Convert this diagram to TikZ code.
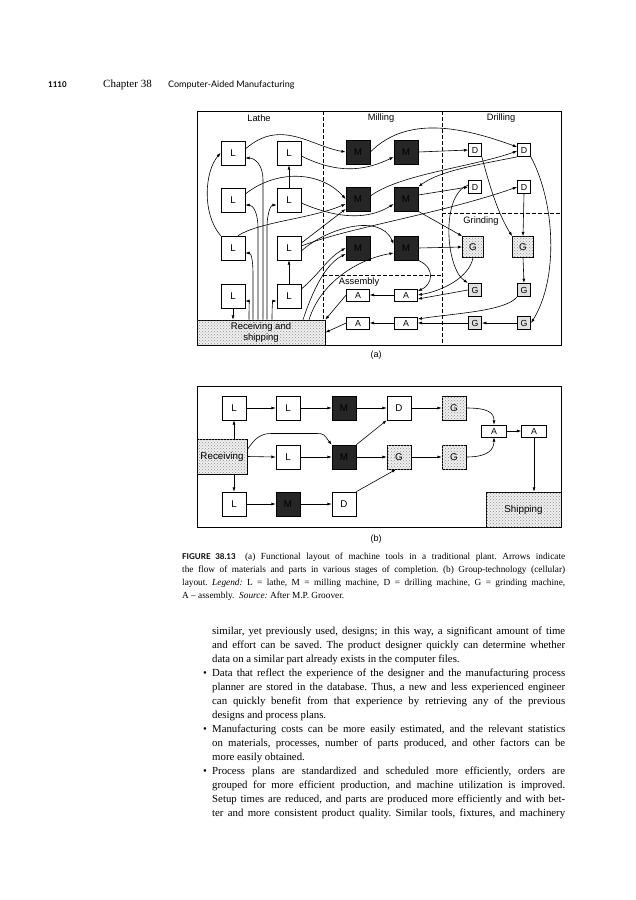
\documentclass[tikz,border=0pt]{standalone}
\usepackage{fontspec}
\setmainfont{Liberation Serif}
\setsansfont{Liberation Sans}
\newfontfamily\headfont{Lato}
\usetikzlibrary{arrows.meta,patterns}

\begin{document}
\begin{tikzpicture}[x=1pt,y=-1pt,
  outline/.style={draw, line width=0.7pt},
  zone/.style={line width=0.55pt, dash pattern=on 3.5pt off 2.5pt},
  flow/.style={-{Latex[length=4.2pt,width=3pt]}, line width=0.6pt},
  zonelabel/.style={font=\sffamily\fontsize{9.3}{10}\selectfont},
  speckle/.style={fill=black!6, postaction={pattern=crosshatch dots, pattern color=black!45}},
  machine/.style={draw, line width=0.7pt, fill=white, minimum size=24pt, inner sep=0pt, font=\sffamily\fontsize{9.8}{10}\selectfont},
  mill/.style={machine, fill=black!85},
  drill/.style={machine, minimum size=13pt, font=\sffamily\fontsize{8.8}{9}\selectfont},
  grind/.style={machine, speckle, minimum size=21pt},
  gsmall/.style={drill, line width=1.2pt, fill=black!12},
  asm/.style={machine, minimum width=23pt, minimum height=12pt, font=\sffamily\fontsize{8.8}{9}\selectfont},
  store/.style={draw, line width=0.7pt, speckle, inner sep=0pt, align=center, font=\sffamily\fontsize{9.5}{10.5}\selectfont}]
\fill[white] (0,0) rectangle (636,900);
\useasboundingbox (0,0) rectangle (636,900);

\node[anchor=base west, inner sep=0, font=\headfont\bfseries\fontsize{8}{9}\selectfont] (pageno) at (48,87) {1110};
\node[anchor=base west, inner sep=0, font=\fontsize{11}{12}\selectfont] (chapter) at (103,87) {Chapter 38};
\node[anchor=base west, inner sep=0, font=\headfont\fontsize{9}{10}\selectfont] (runhead) at (168,87) {Computer-Aided Manufacturing};

% (a) functional layout
\draw[outline] (197,111) rectangle (561,345);
\draw[zone] (323,111) -- (323,320); \draw[zone] (442,111) -- (442,345);
\draw[zone] (442,213) -- (561,213); \draw[zone] (323,275) -- (442,275);
\node[zonelabel] (lathe) at (259,118) {Lathe}; \node[zonelabel] (milling) at (381,118) {Milling};
\node[zonelabel] (drilling) at (501,118) {Drilling}; \node[zonelabel] (grinding) at (481,221) {Grinding};
\node[zonelabel] (assembly) at (359,282) {Assembly};

\node[machine] (l11) at (233,153) {L}; \node[machine] (l12) at (289,153) {L};
\node[machine] (l21) at (233,200) {L}; \node[machine] (l22) at (289,200) {L};
\node[machine] (l31) at (233,248) {L}; \node[machine] (l32) at (289,248) {L};
\node[machine] (l41) at (233,296) {L}; \node[machine] (l42) at (289,296) {L};
\node[mill] (m11) at (358,152) {M}; \node[mill] (m12) at (406,152) {M};
\node[mill] (m21) at (358,199) {M}; \node[mill] (m22) at (406,199) {M};
\node[mill] (m31) at (358,248) {M}; \node[mill] (m32) at (406,248) {M};
\node[drill] (d11) at (475,150) {D}; \node[drill] (d12) at (524,150) {D};
\node[drill] (d21) at (475,187) {D}; \node[drill] (d22) at (524,187) {D};
\node[grind] (g11) at (473,247) {G}; \node[grind] (g12) at (523,247) {G};
\node[gsmall] (g21) at (475,290) {G}; \node[gsmall] (g22) at (524,290) {G};
\node[gsmall] (g31) at (475,323) {G}; \node[gsmall] (g32) at (524,323) {G};
\node[asm] (a11) at (358,295) {A}; \node[asm] (a12) at (406,295) {A};
\node[asm] (a21) at (358,323) {A}; \node[asm] (a22) at (406,323) {A};
\node[store, minimum width=128pt, minimum height=25pt] (recship) at (261,332.5) {Receiving and\\shipping};

\draw[flow] ([xshift=2pt]recship.north) -- ++(0,-140) .. controls +(0,-14) and +(10,0) .. ([yshift=-5pt]l11.east);
\draw[flow] ([xshift=-3pt]recship.north) -- ++(0,-92) .. controls +(0,-14) and +(8,0) .. ([yshift=-5pt]l21.east);
\draw[flow] ([xshift=-8pt]recship.north) -- ++(0,-45) .. controls +(0,-14) and +(6,0) .. ([yshift=-5pt]l31.east);
\draw[flow] ([xshift=-12pt]recship.north) .. controls +(0,-14) and +(4,0) .. ([yshift=-5pt]l41.east);
\draw[flow] ([xshift=6pt]recship.north) -- ++(0,-92) .. controls +(0,-14) and +(-6,0) .. ([yshift=-5pt]l22.west);
\draw[flow] ([xshift=11pt]recship.north) .. controls +(0,-14) and +(-4,0) .. ([yshift=-5pt]l42.west);
\draw[flow] (l41.south) -- (l41.south |- recship.north);
\draw[flow] (l42.north) -- (l32.south); \draw[flow] (l22.north) -- (l12.south);
\draw[flow] (l31.north west) .. controls +(-19,-22) and +(-16,18) .. (l11.west);
\draw[flow] ([yshift=4pt]l11.east) .. controls +(35,-31) and +(-35,-6) .. (m11.west);
\draw[flow] ([yshift=-3pt]l12.east) .. controls +(40,20) and +(-25,12) .. ([yshift=-5pt]m12.west);
\draw[flow] ([yshift=6pt]l21.east) .. controls +(30,-24) and +(-26,-29) .. (m21.west);
\draw[flow] ([yshift=-3pt]l22.east) .. controls +(39,17) and +(-24,15) .. ([yshift=-5pt]m22.west);
\draw[flow] ([xshift=5pt]l31.north) .. controls +(22,-14) and +(-36,15) .. ([yshift=-5pt]m21.west);
\draw[flow] ([yshift=5pt]l32.east) -- ([yshift=-10pt]m21.west);
\draw[flow] ([yshift=2pt]l32.east) .. controls +(49,-19) and +(-77,27) .. (d22.west);
\draw[flow] ([yshift=-3pt]l32.east) .. controls +(24,-22) and +(-14,-32) .. ([yshift=4pt]m32.west);
\draw[flow] ([yshift=7pt]l42.east) .. controls +(18,-15) and +(-18,10) .. (m31.west);
\draw[flow] ([xshift=42pt]recship.north) .. controls +(10,-30) and +(-20,10) .. ([yshift=-6pt]m31.west);
\draw[flow] ([xshift=48pt]recship.north) .. controls +(12,-38) and +(-35,6) .. ([yshift=-5pt]m32.west);
\draw[flow] (m11.east) .. controls +(35,-35) and +(-60,-22) .. ([yshift=3pt]d12.west);
\draw[flow] (m12.east) -- (d11.west);
\draw[flow] ([yshift=3pt]m21.east) .. controls +(30,-22) and +(-45,16) .. ([yshift=-1pt]d12.west);
\draw[flow] (d12.south west) .. controls +(-40,8) and +(22,-16) .. (m22.north east);
\draw[flow] ([yshift=4pt]m22.east) -- (d21.west);
\draw[flow] (m22.south east) -- (g11.north west);
\draw[flow] (m32.east) -- (g11.west);
\draw[flow] (m32.south east) .. controls +(18,8) and +(14,-6) .. ([yshift=4pt]a12.east);
\draw[flow] (g11.south) .. controls +(-4,20) and +(24,-4) .. (a12.east);
\draw[flow] (g21.west) -- ([yshift=-4pt]a12.east);
\draw[flow] (a12.west) -- (a11.east); \draw[flow] (a11.west) -- (recship.north east);
\draw[flow] (a22.west) -- (a21.east); \draw[flow] (a21.west) -- (recship.east);
\draw[flow] (g22.south west) .. controls +(-12,14) and +(40,-6) .. ([yshift=4pt]a22.east);
\draw[flow] (g32.west) -- (g31.east); \draw[flow] (g31.west) -- (a22.east);
\draw[flow] (d11.south east) .. controls +(8,30) and +(-14,-22) .. (g12.north west);
\draw[flow] (d12.south east) .. controls +(24,45) and +(28,-45) .. (g32.east);
\draw[flow] ([yshift=2pt]d21.west) .. controls +(-28,10) and +(-22,-14) .. (g21.north west);
\draw[flow] (d22.south) -- (g12.north); \draw[flow] (g12.south) -- (g22.north);
\node[font=\sffamily\fontsize{9}{10}\selectfont] (cap-a) at (376,355) {(a)};

% (b) cellular layout
\draw[outline] (197,386) rectangle (561,527);
\node[machine] (bl1) at (234,408) {L}; \node[machine] (bl2) at (288,408) {L};
\node[mill] (bm1) at (344,408) {M}; \node[machine] (bd1) at (399,408) {D};
\node[grind, minimum size=24pt] (bg1) at (454,408) {G};
\node[store, minimum width=50pt, minimum height=35pt, font=\sffamily\fontsize{9.8}{10}\selectfont] (rec) at (222,456.5) {Receiving};
\node[machine] (bl3) at (288,457) {L}; \node[mill] (bm2) at (344,457) {M};
\node[grind, minimum size=24pt] (bg2) at (399,457) {G}; \node[grind, minimum size=24pt] (bg3) at (454,457) {G};
\node[machine] (bl4) at (234,504) {L}; \node[mill] (bm3) at (288,504) {M}; \node[machine] (bd2) at (344,504) {D};
\node[asm, minimum width=25pt] (ba1) at (494,431) {A}; \node[asm, minimum width=25pt] (ba2) at (534,431) {A};
\node[store, minimum width=75pt, minimum height=35pt, font=\sffamily\fontsize{9.8}{10}\selectfont] (ship) at (523.5,509.5) {Shipping};

\draw[flow] (bl1.south |- rec.north) -- (bl1.south); \draw[flow] (bl4.north |- rec.south) -- (bl4.north);
\draw[flow] (rec.east) -- (bl3.west);
\draw[flow] ([yshift=7pt]rec.east) .. controls +(8,-12) and +(-10,0) .. ++(24,-16) -- ++(44,0) .. controls +(10,0) and +(-8,-10) .. (bm2.north west);
\draw[flow] (bl1) -- (bl2); \draw[flow] (bl2) -- (bm1); \draw[flow] (bm1) -- (bd1); \draw[flow] (bd1) -- (bg1);
\draw[flow] (bl3) -- (bm2); \draw[flow] (bm2) -- (bg2); \draw[flow] (bg2) -- (bg3);
\draw[flow] (bl4) -- (bm3); \draw[flow] (bm3) -- (bd2);
\draw[flow] (bm2.north east) -- (bd1.south west); \draw[flow] (bd2.north east) -- ([xshift=-3pt]bg2.south);
\draw[flow] (bg1.east) .. controls +(22,0) and +(0,-12) .. (ba1.north);
\draw[flow] (bg3.east) .. controls +(22,0) and +(0,12) .. (ba1.south);
\draw[flow] (ba1) -- (ba2); \draw[flow] (ba2.south) -- (ba2.south |- ship.north);
\node[font=\sffamily\fontsize{9}{10}\selectfont] (cap-b) at (376,539) {(b)};

\node[anchor=base west, inner sep=0, text width=383pt, align=justify, font=\fontsize{9.3}{13}\selectfont] (caption) at (182,559) {\frenchspacing\setlength{\parindent}{0pt}{\headfont\bfseries\fontsize{8}{13}\selectfont FIGURE 38.13}\quad (a) Functional layout of machine tools in a traditional plant. Arrows indicate\linebreak the flow of materials and parts in various stages of completion. (b) Group-technology (cellular)\linebreak layout. \textit{Legend:} L = lathe, M = milling machine, D = drilling machine, G = grinding machine,\linebreak A -- assembly. \ \textit{Source:} After M.P. Groover.};

\node[anchor=base west, inner sep=0, text width=353pt, align=justify, font=\fontsize{10.8}{14}\selectfont] (body) at (212,634) {\frenchspacing\setlength{\parindent}{0pt}similar, yet previously used, designs; in this way, a significant amount of time\linebreak and effort can be saved. The product designer quickly can determine whether\linebreak data on a similar part already exists in the computer files.\par
\leavevmode\llap{\textbullet\ \ }Data that reflect the experience of the designer and the manufacturing process\linebreak planner are stored in the database. Thus, a new and less experienced engineer\linebreak can quickly benefit from that experience by retrieving any of the previous\linebreak designs and process plans.\par
\leavevmode\llap{\textbullet\ \ }Manufacturing costs can be more easily estimated, and the relevant statistics\linebreak on materials, processes, number of parts produced, and other factors can be\linebreak more easily obtained.\par
\leavevmode\llap{\textbullet\ \ }Process plans are standardized and scheduled more efficiently, orders are\linebreak grouped for more efficient production, and machine utilization is improved.\linebreak Setup times are reduced, and parts are produced more efficiently and with bet-\linebreak ter and more consistent product quality. Similar tools, fixtures, and machinery\parfillskip=0pt\par};
\end{tikzpicture}
\end{document}
